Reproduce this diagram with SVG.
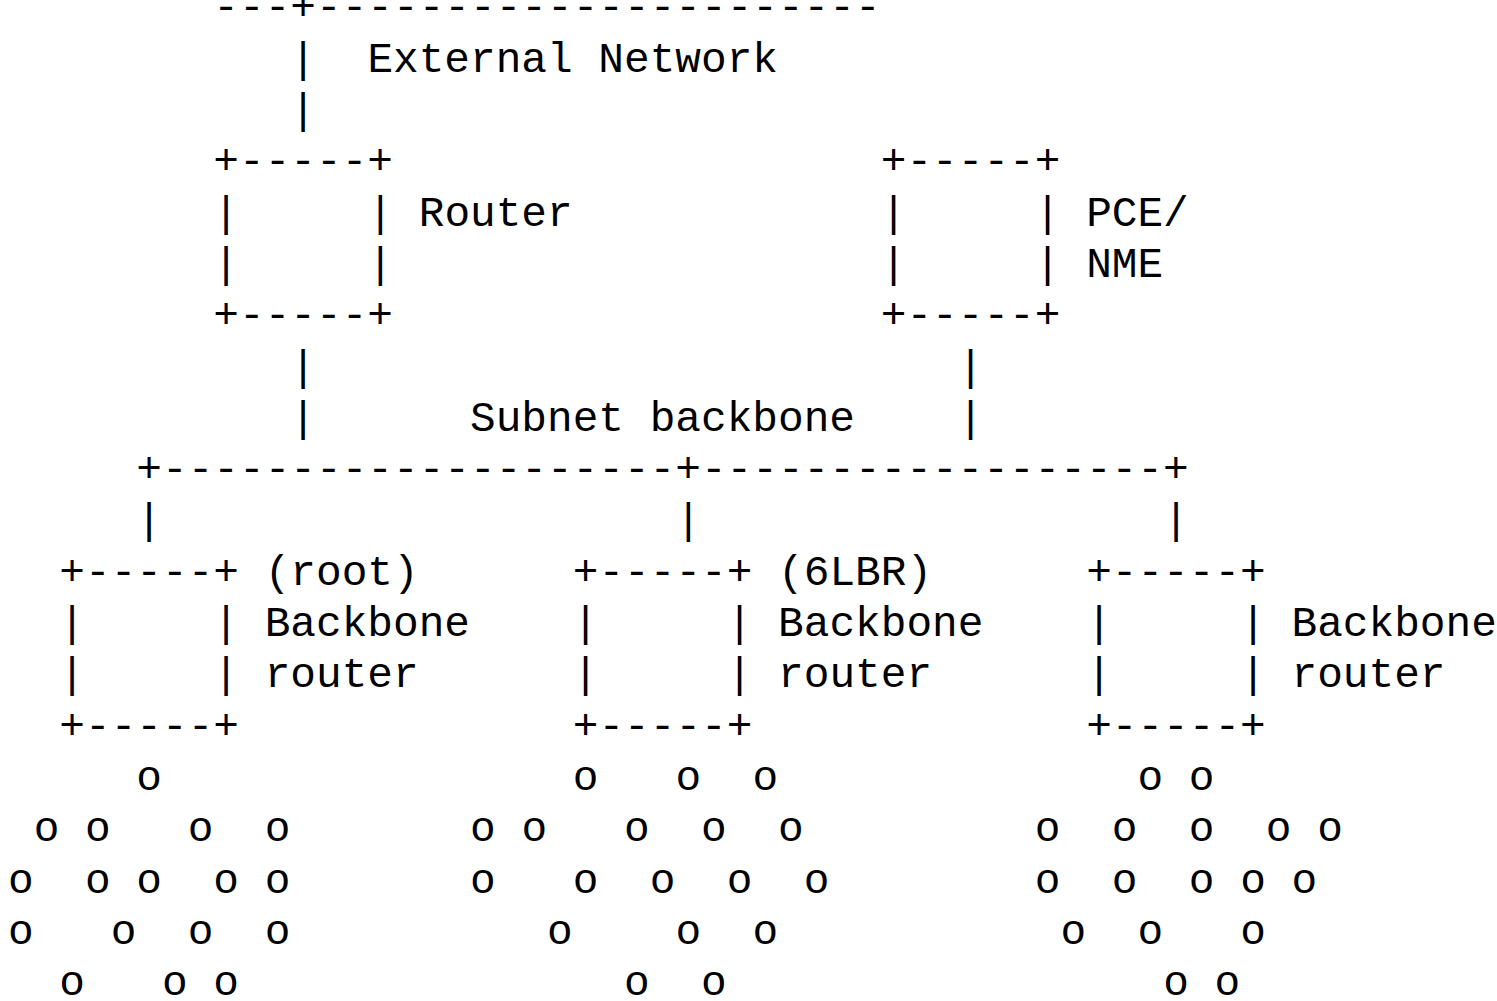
<svg xmlns="http://www.w3.org/2000/svg" width="1497" height="1001" viewBox="0 0 1497 1001">
<style>
text { font-family: "Liberation Mono", "Courier New", monospace; font-size: 42.78px; fill: #000; }
</style>
<rect width="1497" height="1001" fill="#fff"/>
<g id="connectors">
  <text x="213.36" y="20.4">---+----------------------</text>
  <text x="290.37" y="71.7">|</text>
  <text x="290.37" y="123.0">|</text>
  <text x="290.37" y="379.5">|</text>
  <text x="290.37" y="430.8">|</text>
  <text x="957.79" y="379.5">|</text>
  <text x="957.79" y="430.8">|</text>
  <text x="136.35" y="482.1">+--------------------+------------------+</text>
  <text x="136.35" y="533.4">|</text>
  <text x="675.42" y="533.4">|</text>
  <text x="1163.15" y="533.4">|</text>
</g>
<g id="labels">
  <text id="label-external" x="367.38" y="71.7">External Network</text>
  <text id="label-subnet" x="470.06" y="430.8">Subnet backbone</text>
</g>
<g id="router">
  <text x="213.36" y="174.3">+-----+</text>
  <text x="213.36 367.38" y="225.6">||</text>
  <text x="213.36 367.38" y="276.9">||</text>
  <text x="213.36" y="328.2">+-----+</text>
  <text x="418.72" y="225.6">Router</text>
</g>
<g id="pce-nme">
  <text x="880.78" y="174.3">+-----+</text>
  <text x="880.78 1034.8" y="225.6">||</text>
  <text x="880.78 1034.8" y="276.9">||</text>
  <text x="880.78" y="328.2">+-----+</text>
  <text x="1086.14" y="225.6">PCE/</text>
  <text x="1086.14" y="276.9">NME</text>
</g>
<g id="bbr-root">
  <text x="59.34" y="584.7">+-----+</text>
  <text x="59.34 213.36" y="636.0">||</text>
  <text x="59.34 213.36" y="687.3">||</text>
  <text x="59.34" y="738.6">+-----+</text>
  <text x="264.7" y="584.7">(root)</text>
  <text x="264.7" y="636.0">Backbone</text>
  <text x="264.7" y="687.3">router</text>
</g>
<g id="bbr-6lbr">
  <text x="572.74" y="584.7">+-----+</text>
  <text x="572.74 726.76" y="636.0">||</text>
  <text x="572.74 726.76" y="687.3">||</text>
  <text x="572.74" y="738.6">+-----+</text>
  <text x="778.1" y="584.7">(6LBR)</text>
  <text x="778.1" y="636.0">Backbone</text>
  <text x="778.1" y="687.3">router</text>
</g>
<g id="bbr-right">
  <text x="1086.14" y="584.7">+-----+</text>
  <text x="1086.14 1240.16" y="636.0">||</text>
  <text x="1086.14 1240.16" y="687.3">||</text>
  <text x="1086.14" y="738.6">+-----+</text>
  <text x="1291.5" y="636.0">Backbone</text>
  <text x="1291.5" y="687.3">router</text>
</g>
<g id="mesh-left">
  <text x="136.35" y="789.9">o</text>
  <text x="33.67 85.01 187.69 264.7" y="841.2">oooo</text>
  <text x="8 85.01 136.35 213.36 264.7" y="892.5">ooooo</text>
  <text x="8 110.68 187.69 264.7" y="943.8">oooo</text>
  <text x="59.34 162.02 213.36" y="995.1">ooo</text>
</g>
<g id="mesh-middle">
  <text x="572.74 675.42 752.43" y="789.9">ooo</text>
  <text x="470.06 521.4 624.08 701.09 778.1" y="841.2">ooooo</text>
  <text x="470.06 572.74 649.75 726.76 803.77" y="892.5">ooooo</text>
  <text x="547.07 675.42 752.43" y="943.8">ooo</text>
  <text x="624.08 701.09" y="995.1">oo</text>
</g>
<g id="mesh-right">
  <text x="1137.48 1188.82" y="789.9">oo</text>
  <text x="1034.8 1111.81 1188.82 1265.83 1317.17" y="841.2">ooooo</text>
  <text x="1034.8 1111.81 1188.82 1240.16 1291.5" y="892.5">ooooo</text>
  <text x="1060.47 1137.48 1240.16" y="943.8">ooo</text>
  <text x="1163.15 1214.49" y="995.1">oo</text>
</g>
</svg>
